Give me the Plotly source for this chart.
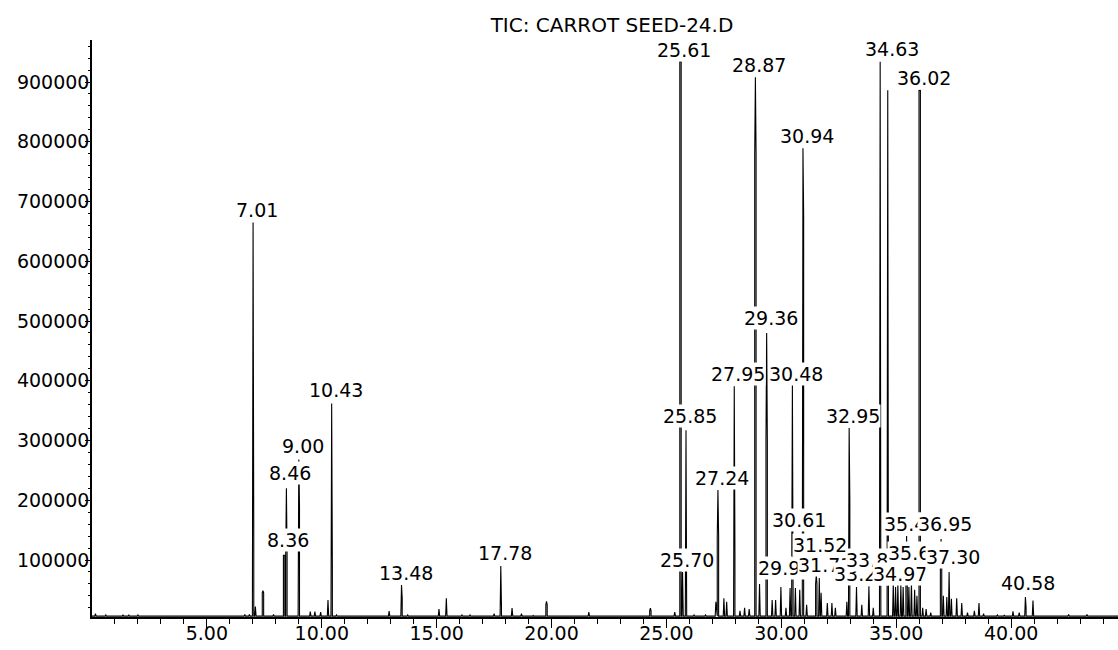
import plotly.graph_objects as go

title_text = "TIC: CARROT SEED-24.D"

# retention time (min), apex abundance, height up to which the peak trace is drawn wide (0 = thin)
peak_rt = [0.15, 0.6, 1.35, 1.6, 2.0, 6.65, 6.85,
           7.01, 7.11, 7.44, 7.9, 8.36, 8.46, 9.00, 9.5, 9.7, 9.95, 10.27, 10.43,
           10.64, 10.9, 11.3, 11.65, 12.0, 12.93, 13.47, 13.74, 15.1, 15.42, 16.1, 16.45,
           17.5, 17.79, 18.28, 18.69, 19.2, 19.78, 21.62, 24.3, 25.36,
           25.61, 25.70, 25.85, 26.2, 26.7, 27.15, 27.24, 27.5, 27.62, 27.95,
           28.2, 28.4, 28.6, 28.87, 29.05, 29.36, 29.6, 29.75, 29.98,
           30.2, 30.38, 30.48, 30.61, 30.8, 30.94, 31.1, 31.52, 31.65, 31.73,
           32.0, 32.2, 32.35, 32.85, 32.95, 33.27, 33.5, 33.81, 34.0,
           34.30, 34.63, 34.87, 34.97, 35.07, 35.2, 35.3, 35.45, 35.55, 35.66, 35.8, 35.9,
           36.02, 36.15, 36.3, 36.5, 36.95, 37.05, 37.2, 37.30, 37.4, 37.63, 37.85,
           38.1, 38.4, 38.6, 38.8, 39.4, 39.7, 40.08, 40.35, 40.62, 40.95,
           41.5, 42.1, 42.5, 43.3, 44.4]
peak_height = [10000, 8000, 8500, 8500, 8000, 9000, 9000,
               665000, 22000, 48600, 9000, 108000, 220000, 268000, 13500, 13500, 13000, 33000, 362000,
               8000, 7000, 7000, 7000, 7000, 14500, 58000, 8000, 18000, 36000, 8000, 8000,
               10000, 90000, 19500, 10000, 7000, 31000, 13000, 19500, 13000,
               934000, 80000, 317000, 8000, 8000, 30000, 217000, 36000, 30000, 391000,
               15000, 20000, 18000, 908000, 60000, 480000, 33000, 33000, 55000,
               20000, 53000, 396000, 53000, 50000, 789000, 25000, 75000, 70000, 45000,
               28000, 28000, 20000, 30000, 321000, 55000, 25000, 56000, 20000,
               934000, 886000, 62000, 55000, 60000, 58000, 55000, 140000, 55000, 62000, 50000, 40000,
               886000, 20000, 18000, 12000, 135000, 40000, 38000, 80000, 35000, 36000, 28000,
               12000, 15000, 28000, 10000, 8000, 8000, 14000, 12000, 38000, 32000,
               7000, 7000, 9000, 9000, 7000]
peak_shoulder = [0, 0, 0, 0, 0, 0, 0,
                 138000, 0, 45000, 0, 108000, 108000, 189000, 0, 0, 0, 0, 86000,
                 0, 0, 0, 0, 0, 0, 36000, 0, 0, 0, 0, 0,
                 0, 20000, 0, 0, 0, 25000, 0, 15000, 0,
                 934000, 0, 0, 0, 0, 0, 139000, 0, 0, 112000,
                 0, 0, 0, 777000, 0, 300000, 0, 0, 0,
                 0, 0, 53000, 0, 0, 677000, 0, 60000, 0, 0,
                 0, 0, 0, 0, 198000, 0, 0, 0, 0,
                 0, 0, 0, 0, 0, 0, 0, 55000, 0, 0, 0, 0,
                 886000, 0, 0, 0, 85000, 0, 0, 0, 0, 0, 0,
                 0, 0, 0, 0, 0, 0, 0, 0, 20000, 0,
                 0, 0, 0, 0, 0]

label_text = ["7.01", "8.36", "8.46", "9.00", "10.43", "13.48", "17.78",
              "25.61", "25.70", "25.85", "27.24", "27.95", "28.87", "29.36", "29.98",
              "30.48", "30.61", "30.94", "31.52", "31.73", "32.95", "33.27", "33.81",
              "34.63", "34.97", "35.45", "35.66", "36.02", "36.95", "37.30", "40.58"]
label_level = [686000, 133500, 245600, 290800, 384500, 78200, 111700,
               953500, 100000, 341000, 237200, 411300, 928400, 505000, 86000,
               411300, 167000, 809500, 125100, 91600, 341000, 76000, 100000,
               955200, 76000, 160200, 111700, 906700, 160200, 105000, 61500]

x_ticks = [5, 10, 15, 20, 25, 30, 35, 40]
x_tick_labels = ["5.00", "10.00", "15.00", "20.00", "25.00", "30.00", "35.00", "40.00"]
x_minor_ticks = list(range(1, 45))
y_ticks = [100000, 200000, 300000, 400000, 500000, 600000, 700000, 800000, 900000]
y_tick_labels = [str(v) for v in y_ticks]
y_minor_ticks = list(range(20000, 960001, 20000))

BASE = 6000
HALF = 0.03
X_MAX = 44.65

xs, ys = [0.0], [BASE]
for t, h, s in sorted(zip(peak_rt, peak_height, peak_shoulder)):
    s2 = max(s, BASE)
    xs += [t - HALF, t - HALF, t, t + HALF, t + HALF]
    ys += [BASE, s2, h, s2, BASE]
xs.append(X_MAX)
ys.append(BASE)

fig = go.Figure()
fig.add_trace(go.Scatter(x=xs, y=ys, mode="lines",
                         line=dict(color="black", width=1.1),
                         hoverinfo="skip", showlegend=False))

for txt, lvl in zip(label_text, label_level):
    fig.add_annotation(x=float(txt), y=lvl, text=txt, showarrow=False,
                       xshift=4, yanchor="middle", xanchor="center",
                       bgcolor="white", borderpad=0,
                       font=dict(family="DejaVu Sans", size=19, color="black"))

fig.update_layout(
    width=1118, height=650,
    margin=dict(l=92, r=0, t=40, b=33),
    plot_bgcolor="white", paper_bgcolor="white",
    showlegend=False,
    font=dict(family="DejaVu Sans", size=19, color="black"),
    title=dict(text=title_text, x=612 / 1118, xanchor="center",
               y=1 - 25 / 650, yanchor="middle",
               font=dict(family="DejaVu Sans", size=20, color="black")),
)
fig.update_xaxes(range=[0, X_MAX], tickmode="array", tickvals=x_ticks, ticktext=x_tick_labels,
                 ticks="outside", ticklen=9, tickwidth=1, tickcolor="black",
                 ticklabelstandoff=-11,
                 showline=True, linecolor="black", linewidth=1.5,
                 showgrid=False, zeroline=False,
                 minor=dict(tickmode="array", tickvals=x_minor_ticks, ticks="outside",
                            ticklen=5, tickwidth=1, tickcolor="black", showgrid=False))
fig.update_yaxes(range=[4600, 970300], tickmode="array", tickvals=y_ticks, ticktext=y_tick_labels,
                 ticks="outside", ticklen=5, tickwidth=1, tickcolor="black",
                 ticklabelstandoff=-8,
                 showline=True, linecolor="black", linewidth=1.5,
                 showgrid=False, zeroline=False,
                 minor=dict(tickmode="array", tickvals=y_minor_ticks, ticks="outside",
                            ticklen=2, tickwidth=1, tickcolor="black", showgrid=False))

fig.write_html("out.html", config={"displayModeBar": False},
               post_script="document.body.style.margin='0';")
